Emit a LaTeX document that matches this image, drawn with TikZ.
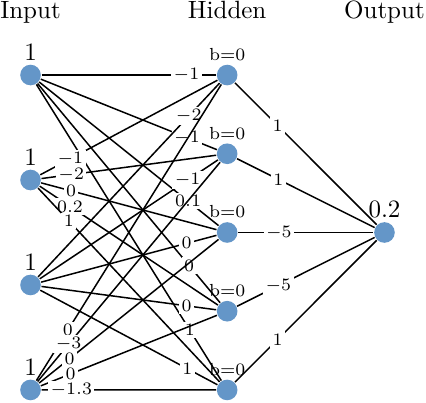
\documentclass[tikz,border=0pt]{standalone}
\usepackage{amsmath}
\usetikzlibrary{positioning,calc}

\definecolor{unitblue}{RGB}{100,150,200}

\begin{document}
\begin{tikzpicture}
	\begin{scope}[xscale=0.553, yscale=0.369]
		\tikzstyle{unit}=[circle, fill=unitblue, draw=none, minimum size=0.29cm, inner sep=0pt]
		\tikzstyle{wt}=[fill=white, inner sep=1pt, font=\scriptsize]
		\tikzstyle{every path}=[semithick]

		\useasboundingbox (-0.776, -12.46) rectangle (10.056, 2.859);

		\node[anchor=base] (tin)  at (0, 2.17) {Input};
		\node[anchor=base] (thid) at (5, 2.17) {Hidden};
		\node[anchor=base] (tout) at (9, 2.17) {Output};

		\node[unit, label={[inner sep=1pt]above:1}] (i1) at (0, 0)   {};
		\node[unit, label={[inner sep=1pt]above:1}] (i2) at (0, -4)  {};
		\node[unit, label={[inner sep=1pt]above:1}] (i3) at (0, -8)  {};
		\node[unit, label={[inner sep=1pt]above:1}] (i4) at (0, -12) {};

		\node[unit, label={[inner sep=1pt, font=\scriptsize]above:b=0}] (h1) at (5, 0)   {};
		\node[unit, label={[inner sep=1pt, font=\scriptsize]above:b=0}] (h2) at (5, -3)  {};
		\node[unit, label={[inner sep=1pt, font=\scriptsize]above:b=0}] (h3) at (5, -6)  {};
		\node[unit, label={[inner sep=1pt, font=\scriptsize]above:b=0}] (h4) at (5, -9)  {};
		\node[unit, label={[inner sep=1pt, font=\scriptsize]above:b=0}] (h5) at (5, -12) {};

		\node[unit, label={[inner sep=1pt]above:0.2}] (out) at (9, -6) {};

		% first input
		\draw (i1) to node[wt, pos=0.83] {$-1$} (h1);
		\draw (i1) to node[wt, pos=0.83] {$-1$} (h2);
		\draw (i1) to node[wt, pos=0.83] {$0.1$} (h3);
		\draw (i1) to node[wt, pos=0.83] {$0$} (h4);
		\draw (i1) to node[wt, pos=0.83] {$1$} (h5);

		% second input
		\draw (i2) to node[wt, pos=0.17] {$-1$} (h1);
		\draw (i2) to node[wt, pos=0.17] {$-2$} (h2);
		\draw (i2) to node[wt, pos=0.17] {$0$} (h3);
		\draw (i2) to node[wt, pos=0.17] {$0.2$} (h4);
		\draw (i2) to node[wt, pos=0.17] {$1$} (h5);

		% third input
		\draw (i3) to node[wt, pos=0.83] {$-2$} (h1);
		\draw (i3) to node[wt, pos=0.83] {$-1$} (h2);
		\draw (i3) to node[wt, pos=0.83] {$0$} (h3);
		\draw (i3) to node[wt, pos=0.83] {$0$} (h4);
		\draw (i3) to node[wt, pos=0.83] {$1$} (h5);

		% fourth input
		\draw (i4) to node[wt, pos=0.17] {$0$} (h1);
		\draw (i4) to node[wt, pos=0.17] {$-3$} (h2);
		\draw (i4) to node[wt, pos=0.17] {$0$} (h3);
		\draw (i4) to node[wt, pos=0.17] {$0$} (h4);
		\draw (i4) to node[wt, pos=0.17] {$-1.3$} (h5);

		% hidden to output
		\draw (h1) to node[wt, pos=0.3] {$1$} (out);
		\draw (h2) to node[wt, pos=0.3] {$1$} (out);
		\draw (h3) to node[wt, pos=0.3] {$-5$} (out);
		\draw (h4) to node[wt, pos=0.3] {$-5$} (out);
		\draw (h5) to node[wt, pos=0.3] {$1$} (out);
	\end{scope}
\end{tikzpicture}
\end{document}
